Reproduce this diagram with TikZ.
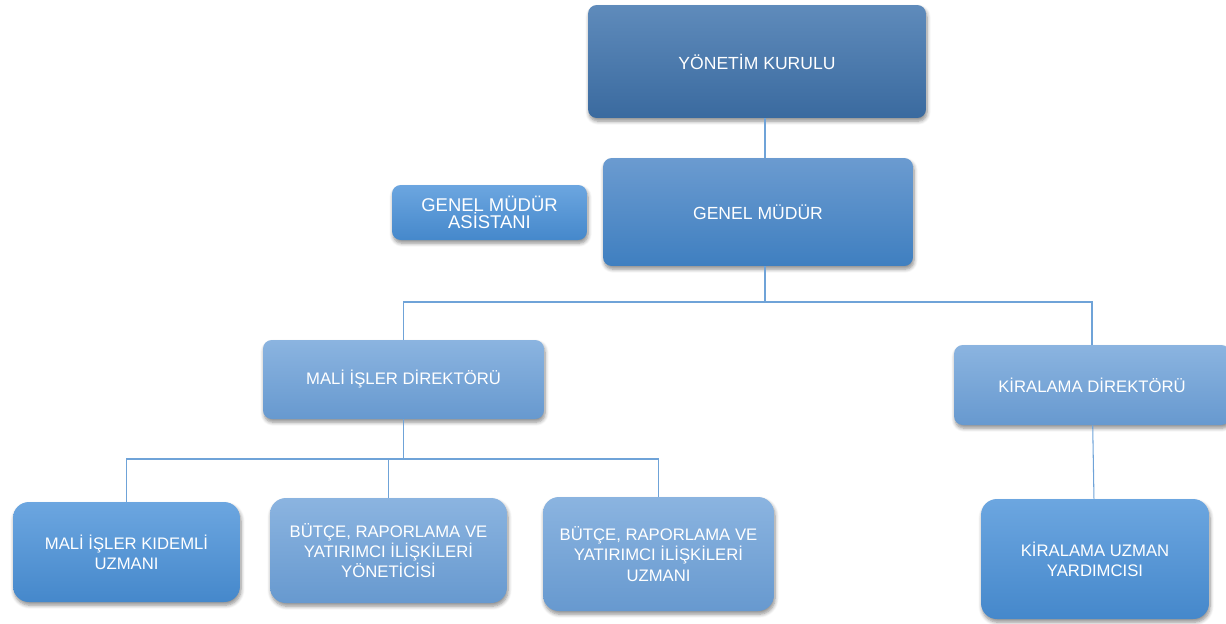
\documentclass[tikz,border=0pt]{standalone}
\usepackage{fontspec}
\setmainfont{Liberation Sans}
\usetikzlibrary{shadows.blur}
\definecolor{ykT}{HTML}{5F8BBB}
\definecolor{ykB}{HTML}{3A6A9F}
\definecolor{gmT}{HTML}{6B9BD0}
\definecolor{gmB}{HTML}{3F7FC0}
\definecolor{ltT}{HTML}{8BB4E0}
\definecolor{ltB}{HTML}{6799CF}
\definecolor{mdT}{HTML}{6CA6E0}
\definecolor{mdB}{HTML}{4588CB}
\definecolor{lnk}{HTML}{6FA3D8}
\tikzset{
	box/.style={rounded corners=5pt, text=white, align=center, font=\fontsize{10}{12}\selectfont,
		blur shadow={shadow xshift=0.6pt, shadow yshift=-1.8pt, shadow opacity=45, shadow blur steps=6}},
	dk/.style={top color=ykT, bottom color=ykB},
	gm/.style={top color=gmT, bottom color=gmB},
	lt/.style={top color=ltT, bottom color=ltB},
	md/.style={top color=mdT, bottom color=mdB},
	low/.style={rounded corners=9pt, font=\fontsize{9.5}{11.5}\selectfont},
	link/.style={draw=lnk, line width=0.6pt},
}
\begin{document}
\begin{tikzpicture}[x=0.02cm, y=-0.02cm]
	\useasboundingbox (0,0) rectangle (1226,623);

	\node [box, dk, minimum width=6.76cm, minimum height=2.26cm] (yk) at (757,61.5) {YÖNETİM KURULU};
	\node [box, gm, minimum width=6.2cm, minimum height=2.16cm] (gm) at (758,212) {GENEL MÜDÜR};
	\node [box, md, minimum width=3.9cm, minimum height=1.1cm, font=\fontsize{10.5}{10}\selectfont] (gma) at (489.5,212.5) {GENEL MÜDÜR\\ASİSTANI};
	\node [box, lt, minimum width=5.62cm, minimum height=1.58cm, font=\fontsize{9.5}{11}\selectfont] (mid) at (403.5,379.5) {MALİ İŞLER DİREKTÖRÜ};
	\node [box, lt, minimum width=5.52cm, minimum height=1.6cm, font=\fontsize{9.5}{11}\selectfont] (kd) at (1092,385) {KİRALAMA DİREKTÖRÜ};

	\node [box, low, md, minimum width=4.54cm, minimum height=2.0cm] (miku) at (126.5,552) {MALİ İŞLER KIDEMLİ\\UZMANI};
	\node [box, low, lt, minimum width=4.74cm, minimum height=2.1cm] (bry) at (388.5,550.5) {BÜTÇE, RAPORLAMA VE\\YATIRIMCI İLİŞKİLERİ\\YÖNETİCİSİ};
	\node [box, low, lt, minimum width=4.62cm, minimum height=2.28cm] (bru) at (658.5,554) {BÜTÇE, RAPORLAMA VE\\YATIRIMCI İLİŞKİLERİ\\UZMANI};
	\node [box, low, md, minimum width=4.56cm, minimum height=2.4cm] (kuy) at (1095,559) {KİRALAMA UZMAN\\YARDIMCISI};

	\coordinate (bus1) at (765,302);
	\coordinate (bus2) at (390,459);

	\draw [link] (yk.south -| bus1) -- (gm.north -| bus1);
	\draw [link] (gm.south -| bus1) -- (bus1);
	\draw [link] (mid) |- (bus1) -| (kd);
	\draw [link] (mid) -- (mid |- bus2);
	\draw [link] (miku) |- (bus2) -| (bru);
	\draw [link] (bry) -- (bry |- bus2);
	\draw [link] (kd) -- (kuy);
\end{tikzpicture}
\end{document}
